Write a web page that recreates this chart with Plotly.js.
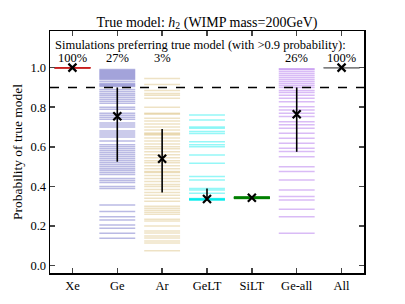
<!DOCTYPE html>
<html><head><meta charset="utf-8">
<script src="https://cdn.plot.ly/plotly-3.0.1.min.js"></script>
<style>html,body{margin:0;padding:0;background:#fff}</style>
</head><body><div id="chart" style="width:405px;height:304px"></div>
<script>
const categories = ['Xe','Ge','Ar','GeLT','SiLT','Ge-all','All'];
const percentLabels = ['100%','27%','3%','','','26%','100%'];
const threshold = 0.9;

const xeValues = [1.0,1.0,1.0,1.0,1.0,1.0];
const geValues = [0.99,0.985,0.98,0.975,0.97,0.965,0.96,0.955,0.95,0.945,0.94,0.93,0.92,0.915,0.91,0.905,
  0.89,0.88,0.87,0.86,0.85,0.84,0.83,0.82,0.80,0.79,0.77,0.76,0.75,0.74,0.72,0.71,0.70,0.68,0.67,0.66,0.65,
  0.63,0.61,0.60,0.59,0.58,0.57,0.56,0.55,0.54,0.53,0.52,0.51,0.50,0.49,0.48,0.47,0.46,0.44,0.43,0.42,0.40,0.39,
  0.306,0.273,0.247,0.231,0.206,0.189,0.164,0.138];
const arValues = [0.945,0.915,0.885,0.87,0.86,0.845,0.80,0.77,0.765,0.745,0.73,0.715,0.70,0.685,0.67,0.665,0.66,
  0.645,0.63,0.615,0.60,0.59,0.575,0.56,0.545,0.53,0.52,0.505,0.49,0.475,0.47,0.455,0.44,0.425,0.41,0.40,0.385,
  0.37,0.355,0.34,0.325,0.30,0.29,0.28,0.27,0.26,0.235,0.225,0.20,0.175,0.165,0.15,0.14,0.125,0.115,0.075];
const geltValues = [0.761,0.736,0.70,0.694,0.677,0.668,0.626,0.61,0.60,0.559,0.517,0.45,0.433,0.39,0.382,0.366,
  0.339,0.338,0.337,0.336,0.335,0.334,0.333,0.332,0.331];
const siltValues = [0.347,0.346,0.345,0.344,0.343,0.342,0.341,0.340,0.339];
const geallValues = [0.995,0.99,0.98,0.97,0.96,0.95,0.94,0.93,0.92,0.91,0.90,0.885,0.875,0.86,0.845,0.828,0.803,
  0.786,0.77,0.753,0.727,0.711,0.694,0.669,0.643,0.618,0.593,0.576,0.55,0.5,0.475,0.433,0.382,0.349,0.332,0.285,0.247,0.164];
const allValues = [1.0,1.0,1.0,1.0];

const seriesValues = [xeValues, geValues, arValues, geltValues, siltValues, geallValues, allValues];
const lineColors = ['rgba(200,30,30,0.6)','rgba(40,40,170,0.32)','rgba(184,134,11,0.24)','rgba(0,235,235,0.42)',
  'rgba(0,128,0,0.7)','rgba(138,43,226,0.32)','rgba(120,120,120,0.5)'];

const means = [1.0,0.755,0.54,0.337,0.343,0.765,1.0];
const errHigh = [0,0.145,0.15,0.053,0,0.135,0];
const errLow = [0,0.23,0.17,0,0,0.19,0];

const halfWidth = 0.4;
const traces = [];
seriesValues.forEach((vals, i) => {
  vals.forEach(v => {
    traces.push({type:'scatter', mode:'lines', x:[i-halfWidth, i+halfWidth], y:[v, v],
      line:{color:lineColors[i], width:1.5}, hoverinfo:'skip', showlegend:false});
  });
});
traces.push({type:'scatter', mode:'markers', x:categories.map((c,i)=>i), y:means,
  marker:{symbol:'x-thin', size:8, color:'black', line:{width:2.2, color:'black'}},
  error_y:{type:'data', symmetric:false, array:errHigh, arrayminus:errLow, width:0, thickness:1.6, color:'black'},
  showlegend:false});

const font = {family:'"Liberation Serif", "DejaVu Serif", serif', color:'black'};
const annotations = [{xref:'paper', yref:'y', x:0.48, y:1.114, text:'Simulations preferring true model (with >0.9 probability):',
  showarrow:false, font:Object.assign({size:12.5}, font)}];
percentLabels.forEach((p,i)=>{ if(p) annotations.push({xref:'x', yref:'y', x:i, y:1.049, text:p, showarrow:false,
  font:Object.assign({size:12.5}, font)}); });

const layout = {
  width:405, height:304,
  margin:{l:50, r:41, t:31, b:31},
  paper_bgcolor:'white', plot_bgcolor:'white',
  font:Object.assign({size:12}, font),
  title:{text:'True model: <i>h</i><sub>2</sub> (WIMP mass=200GeV)', x:0.5, xref:'paper', y:0.945, yref:'container',
    font:Object.assign({size:14}, font)},
  xaxis:{range:[-0.5,6.5], tickvals:categories.map((c,i)=>i), ticktext:categories, ticks:'inside', ticklen:5,
    tickwidth:1.5, mirror:'ticks', showline:true, linewidth:1.5, linecolor:'black', showgrid:false, zeroline:false,
    tickfont:Object.assign({size:12.5}, font)},
  yaxis:{range:[-0.037,1.185], tickvals:[0,0.2,0.4,0.6,0.8,1.0], tickformat:'.1f', ticks:'inside', ticklen:5,
    tickwidth:1.5, mirror:'ticks', showline:true, linewidth:1.5, linecolor:'black', showgrid:false, zeroline:false,
    title:{text:'Probability of true model', font:Object.assign({size:13.5}, font), standoff:4},
    tickfont:Object.assign({size:12.5}, font)},
  shapes:[{type:'line', xref:'paper', yref:'y', x0:0, x1:1, y0:threshold, y1:threshold,
    line:{color:'black', width:1.5, dash:'dash'}}],
  annotations:annotations
};
Plotly.newPlot('chart', traces, layout, {staticPlot:true});
</script></body></html>
